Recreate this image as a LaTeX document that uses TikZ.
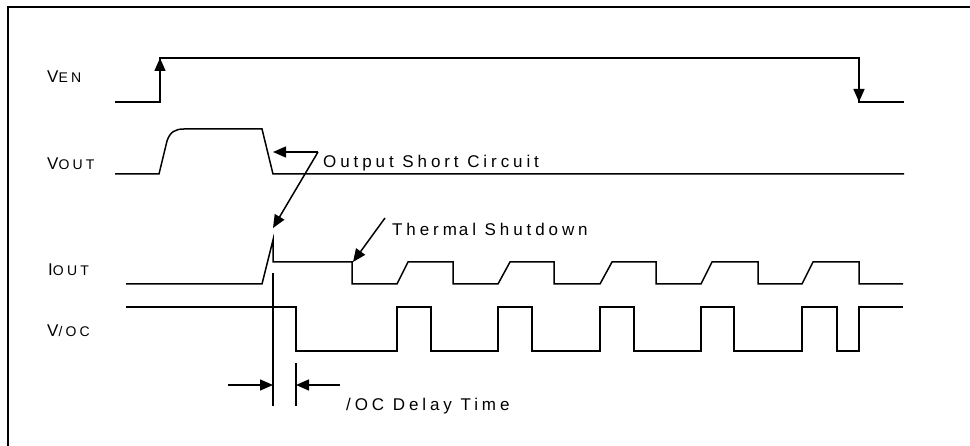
\documentclass[tikz,border=0pt]{standalone}
\usepackage{fontspec}
\setmainfont{Liberation Sans}[LetterSpace=23]
\usetikzlibrary{arrows.meta}
\newcommand{\subl}{\fontsize{14}{16}\selectfont}
\begin{document}
\begin{tikzpicture}[x=1pt,y=-1pt,
  wave/.style={line width=1.5pt, line join=miter},
  arr/.style={line width=1.5pt,-{Triangle[length=13pt,width=11pt]}},
  lbl/.style={anchor=base west, inner sep=0pt, font=\fontsize{17}{19}\selectfont}]
\useasboundingbox (0,0) rectangle (970,446);
% frame (only top and left visible)
\draw[line width=1.8pt] (8,460) -- (8,7) -- (990,7);
% labels
\node[lbl] (ven)  at (47,83)  {V{\subl EN}};
\node[lbl] (vout) at (47,170) {V{\subl OUT}};
\node[lbl] (iout) at (48,276) {I{\subl OUT}};
\node[lbl] (voc)  at (47,337) {V{\subl /OC}};
% VEN
\draw[wave] (115,102) -- (160,102) -- (160,58) -- (859,58) -- (859,102) -- (904,102);
\coordinate (enup0) at (160,80);
\coordinate (enup1) at (160,58);
\coordinate (endn0) at (859,80);
\coordinate (endn1) at (859,102);
\draw[arr] (enup0) -- (enup1);
\draw[arr] (endn0) -- (endn1);
% VOUT
\draw[wave] (115,174) -- (159,174) -- (167,141) .. controls (170,132) and (175,129) .. (184,129)
  -- (262,129) -- (273,174) -- (904,174);
% IOUT
\draw[wave] (126,284) -- (262,284) -- (273,240) -- (273,262) -- (352,262) -- (352,284)
  -- (397,284) -- (408,262) -- (453,262) -- (453,284)
  -- (498,284) -- (510,262) -- (554,262) -- (554,284)
  -- (600,284) -- (612,262) -- (656,262) -- (656,284)
  -- (701,284) -- (712,262) -- (758,262) -- (758,284)
  -- (802,284) -- (813,262) -- (859,262) -- (859,284) -- (903,284);
% V/OC
\draw[wave] (126,307) -- (296,307) -- (296,351) -- (397,351) -- (397,307) -- (431,307) -- (431,351)
  -- (498,351) -- (498,307) -- (532,307) -- (532,351)
  -- (600,351) -- (600,307) -- (634,307) -- (634,351)
  -- (701,351) -- (701,307) -- (734,307) -- (734,351)
  -- (802,351) -- (802,307) -- (837,307) -- (837,351)
  -- (859,351) -- (859,307) -- (903,307);
% annotations
\node[lbl] (osc) at (323,168) {Output Short Circuit};
\coordinate (osck) at (318,152);
\coordinate (oscA) at (273,152);
\coordinate (oscB) at (273,228);
\draw[arr] (osck) -- (oscA);
\draw[arr] (osck) -- (oscB);
\node[lbl] (ts) at (392,236) {Therm\kern2pt al Shutdown};
\coordinate (ts0) at (385,218);
\coordinate (ts1) at (353,262);
\draw[arr] (ts0) -- (ts1);
% delay
\coordinate (d1a) at (273,273);
\coordinate (d1b) at (273,406);
\coordinate (d2a) at (296,363);
\coordinate (d2b) at (296,406);
\draw[wave] (d1a) -- (d1b);
\draw[wave] (d2a) -- (d2b);
\coordinate (la) at (228,385);
\coordinate (lb) at (273,385);
\coordinate (ra) at (340,385);
\coordinate (rb) at (296,385);
\draw[arr] (la) -- (lb);
\draw[arr] (ra) -- (rb);
\node[lbl] (ocd) at (346,411) {/OC Delay Time};
\end{tikzpicture}
\end{document}
